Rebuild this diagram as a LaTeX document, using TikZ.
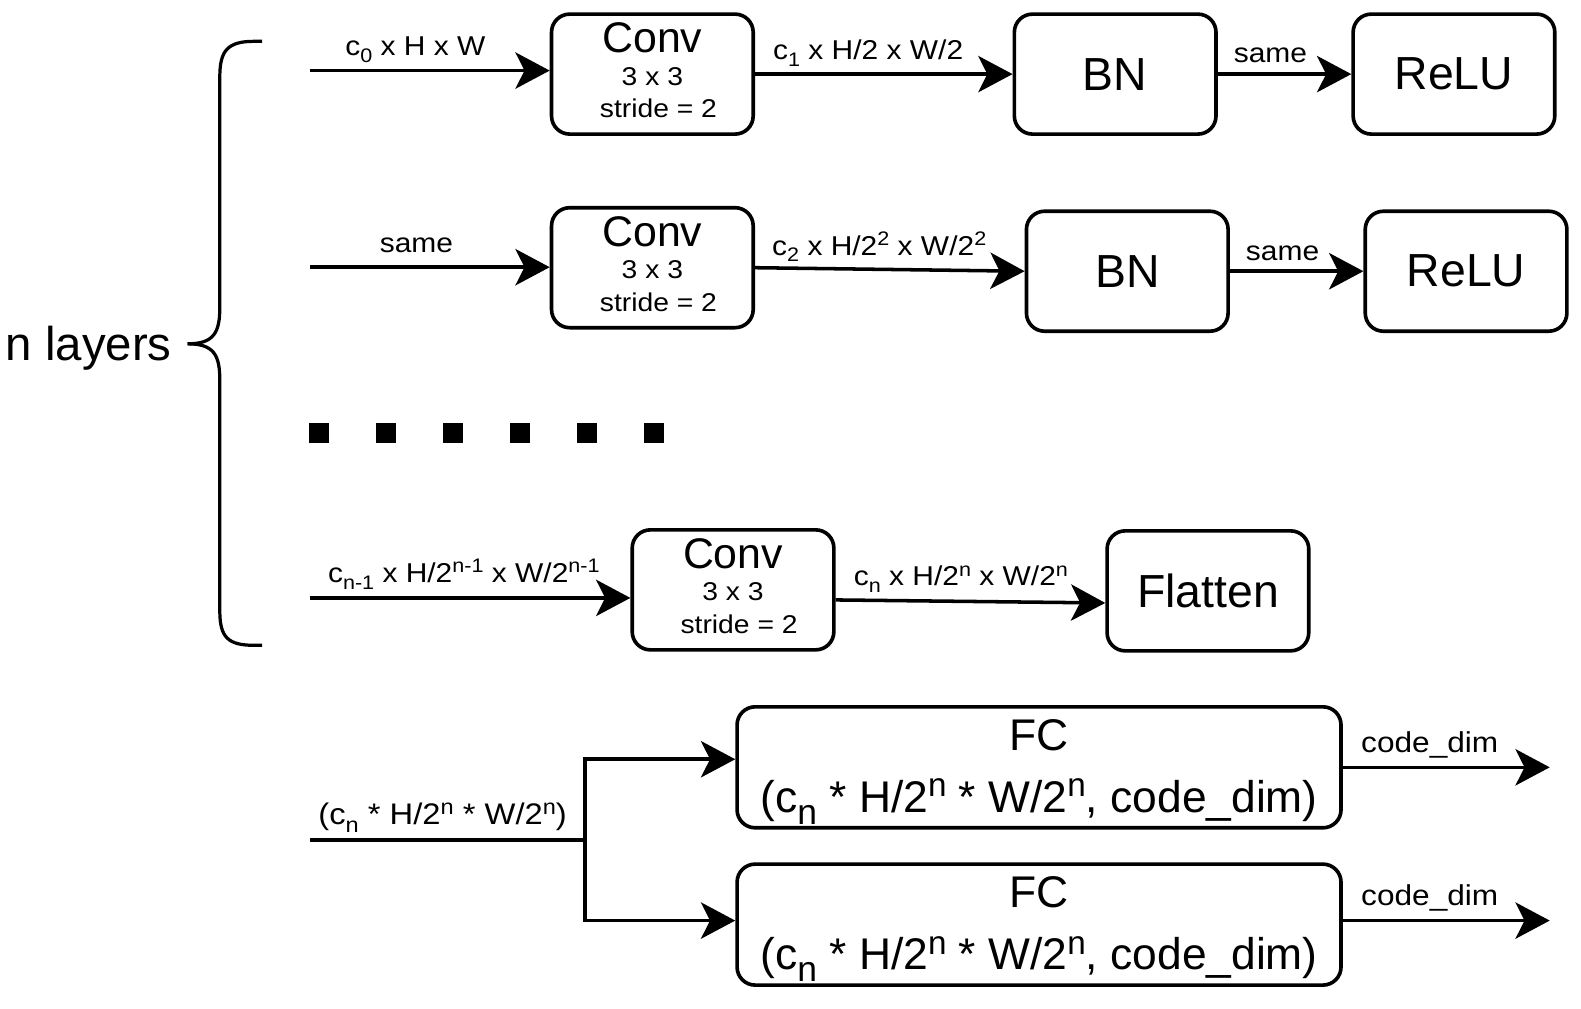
\documentclass[tikz,border=0pt]{standalone}
\usepackage{fontspec}
\setmainfont{Liberation Sans}
\newfontfamily\lblfont[FakeStretch=1.1]{Liberation Sans}
\usepackage{graphicx}
\usetikzlibrary{arrows.meta}
\newcommand\dn[1]{\raisebox{-0.25em}{\scalebox{0.72}{#1}}}
\newcommand\up[1]{\raisebox{0.36em}{\scalebox{0.72}{#1}}}
\newcommand\dnb[1]{\raisebox{-0.26em}{\scalebox{0.8}{#1}}}
\newcommand\upb[1]{\raisebox{0.36em}{\scalebox{0.75}{#1}}}
\newcommand\fs[1]{\fontsize{#1}{#1}\selectfont}
\begin{document}
\begin{tikzpicture}[x=1pt,y=-1pt,
  box/.style={draw, line width=3.6pt, rounded corners=18pt, minimum width=200pt, minimum height=119pt, inner sep=0pt},
  bigtxt/.style={font=\fs{46}},
  fcbox/.style={box, minimum width=599pt, minimum height=120pt},
  arr/.style={line width=3.5pt, -{Stealth[length=34pt,width=36pt,inset=9pt]}},
  ln/.style={line width=3.5pt},
  lbl/.style={anchor=base, inner sep=0pt, font=\lblfont\fs{27}},
  convt/.style={anchor=base, inner sep=0pt, font=\fs{42.5}},
  convs/.style={anchor=base, inner sep=0pt, font=\lblfont\fs{25.5}},
  fct/.style={anchor=base, inner sep=0pt, font=\fs{44}}
]
\fill[white] (0,0) rectangle (1568,1000);
\useasboundingbox (0,0) rectangle (1568,1000);

% brace
\draw[line width=3.2pt] (260,41) -- (252,41) .. controls (226,41) and (218,50) .. (218,76) -- (218,305) .. controls (218,330) and (212,341) .. (186,341);
\draw[line width=3.2pt] (186,341) .. controls (212,341) and (218,352) .. (218,377) -- (218,606) .. controls (218,632) and (226,640) .. (252,640) -- (260,640);
\node[anchor=base, inner sep=0pt, font=\fs{47}] (nl) at (88,358) {n layers};

% row 1
\node[box] (c1) at (647,73.5) {};
\node[convt] (c1a) at ([yshift=21.5pt]c1.center) {Conv};
\node[convs] (c1b) at ([yshift=-11pt]c1.center) {3 x 3};
\node[convs] (c1c) at ([xshift=6pt,yshift=-43.5pt]c1.center) {stride = 2};
\node[box, bigtxt] (bn1) at (1106,73.5) {BN};
\node[box, bigtxt] (r1) at (1442,73.5) {ReLU};
\coordinate (in1) at (307,70);
\draw[arr] (in1) -- (in1 -| c1.west);
\draw[arr] (c1.east) -- (bn1.west);
\draw[arr] (bn1.east) -- (r1.west);
\node[lbl] (l1) at (412,55) {c\dn{0} x H x W};
\node[lbl] (l2) at (861,59.5) {c\dn{1} x H/2 x W/2};
\node[lbl] (l3) at (1260,62) {same};

% row 2
\node[box] (c2) at (647,265.5) {};
\node[convt] (c2a) at ([yshift=21.5pt]c2.center) {Conv};
\node[convs] (c2b) at ([yshift=-11pt]c2.center) {3 x 3};
\node[convs] (c2c) at ([xshift=6pt,yshift=-43.5pt]c2.center) {stride = 2};
\node[box, bigtxt] (bn2) at (1118,269) {BN};
\node[box, bigtxt] (r2) at (1454,269) {ReLU};
\coordinate (in2) at (307,265);
\draw[arr] (in2) -- (in2 -| c2.west);
\draw[arr] (c2.east) -- (bn2.west);
\draw[arr] (bn2.east) -- (r2.west);
\node[lbl] (l4) at (413,250) {same};
\node[lbl] (l5) at (872,253) {c\dn{2} x H/2\up{2} x W/2\up{2}};
\node[lbl] (l6) at (1272,258) {same};

% dots
\foreach \x in {316,383,449,516,582,649}
  \fill ({\x-10},419.5) rectangle ({\x+10},439.5);

% row n
\node[box] (c3) at (727,585) {};
\node[convt] (c3a) at ([yshift=21.5pt]c3.center) {Conv};
\node[convs] (c3b) at ([yshift=-11pt]c3.center) {3 x 3};
\node[convs] (c3c) at ([xshift=6pt,yshift=-43.5pt]c3.center) {stride = 2};
\node[box, bigtxt] (fl) at (1198,586) {Flatten};
\coordinate (in3) at (307,593);
\draw[arr] (in3) -- (in3 -| c3.west);
\draw[arr] ([yshift=-10pt]c3.east) -- ([yshift=-12pt]fl.west);
\node[lbl] (l7) at (460,578) {c\dn{n-1} x H/2\up{n-1} x W/2\up{n-1}};
\node[lbl] (l8) at (953,581) {c\dn{n} x H/2\up{n} x W/2\up{n}};

% FC
\node[fcbox] (fc1) at (1030.5,761) {};
\node[fct] (fc1a) at ([yshift=17pt]fc1.center) {FC};
\node[fct] (fc1b) at ([yshift=-45pt]fc1.center) {(c\dnb{n} * H/2\upb{n} * W/2\upb{n}, code\_dim)};
\node[fcbox] (fc2) at (1030.5,917) {};
\node[fct] (fc2a) at ([yshift=17pt]fc2.center) {FC};
\node[fct] (fc2b) at ([yshift=-45pt]fc2.center) {(c\dnb{n} * H/2\upb{n} * W/2\upb{n}, code\_dim)};
\coordinate (sp) at (307,833);
\coordinate (j) at (580,833);
\draw[ln] (sp) -- (j);
\draw[arr] (j) |- ([yshift=8pt]fc1.west);
\draw[arr] (j) |- ([yshift=4pt]fc2.west);
\node[lbl, font=\lblfont\fs{29.5}] (l9) at (439,818) {(c\dn{n} * H/2\up{n} * W/2\up{n})};
\coordinate (o1) at (1537,761);
\coordinate (o2) at (1537,913);
\draw[arr] (fc1.east) -- (o1);
\draw[arr] ([yshift=4pt]fc2.east) -- (o2);
\node[lbl, font=\lblfont\fs{28.5}] (l10) at (1418,746) {code\_dim};
\node[lbl, font=\lblfont\fs{28.5}] (l11) at (1418,898) {code\_dim};
\end{tikzpicture}
\end{document}
